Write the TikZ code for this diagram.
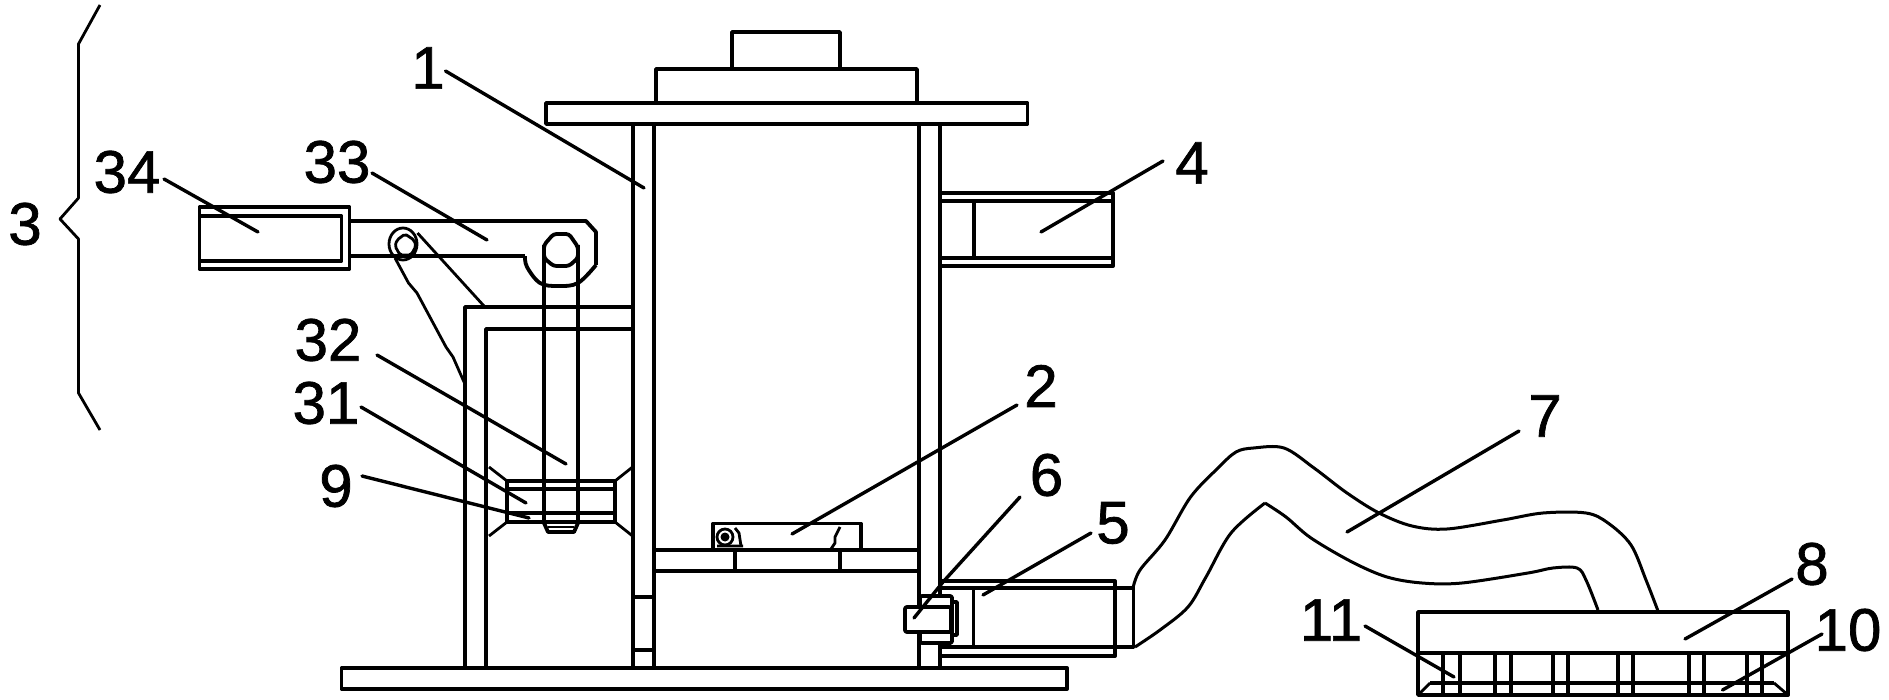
\documentclass[tikz,border=0pt]{standalone}
\usepackage{fontspec}
\setmainfont{Liberation Sans}
\newfontfamily\numfont{Liberation Sans}[FakeBold=1.2]
\tikzset{
  part/.style={line width=3.8pt,line join=round,draw=black},
  fine/.style={line width=2.8pt,line join=round,draw=black},
  leader/.style={line width=3.4pt,line cap=round,draw=black},
  hose/.style={line width=3pt,draw=black,smooth,tension=0.55},
  num/.style={font=\numfont\fontsize{60}{60}\selectfont,inner sep=0pt,text=black}
}
\begin{document}
\begin{tikzpicture}[x=1pt,y=-1pt]
\path[use as bounding box,fill=white] (0,0) rectangle (1889,700);
% brace
\draw[fine] (100,5) -- (78.5,44) -- (78.5,198) -- (60,219) -- (78.5,239) -- (78.5,393) -- (100,430);
% base, top
\draw[part] (341.5,668) rectangle (1067,689);
\draw[part] (546,103) rectangle (1027.5,124);
\draw[part] (656,103) -- (656,69) -- (917,69) -- (917,103);
\draw[part] (732,69) -- (732,32) -- (840,32) -- (840,69);
% columns
\foreach \cx in {632.6,653.6,919,940} \draw[part] (\cx,124) -- (\cx,668);
\draw[part] (632.6,597) -- (653.6,597) (632.6,650) -- (653.6,650);
% side frame
\draw[part] (632.6,307) -- (465,307) -- (465,668);
\draw[part] (632.6,329) -- (486,329) -- (486,668);
% nut 31
\draw[part] (507,481) rectangle (615,522);
\draw[part] (507,489) -- (615,489) (507,513) -- (615,513);
\draw[fine] (489,467) -- (507,481) (507,522) -- (489,536) (615,481) -- (632.6,467) (615,522) -- (632.6,536);
% rod 32
\draw[part] (544,245) -- (544,523) -- (548,532) -- (574,532) -- (578,523) -- (578,245);
\draw[fine] (548,527) -- (574,527);
\draw[part,rounded corners=3pt] (544,245) -- (553.5,234) -- (569,234) -- (578,247) -- (578,258) -- (569,266) -- (553.5,266) -- (544,258) -- cycle;
% arm 33
\draw[part] (349.5,221) -- (586,221) -- (596,232) -- (596,265);
\draw[part,smooth,tension=0.6] plot coordinates {(596,265) (578,283) (558,286) (540,283) (527,267) (525,256)};
\draw[part] (525,256) -- (349.5,256);
% cylinder 34
\draw[part] (199.5,207) rectangle (349.5,269);
\draw[part] (199.5,216) -- (341.5,216) -- (341.5,261) -- (199.5,261);
% pivot
\draw[fine] (403,244) ellipse (14 and 16);
\draw[fine,rounded corners=2pt] (405,234) -- (414,240) -- (416,246) -- (411,255) -- (400,255) -- (395,246) -- (397,240) -- cycle;
\draw[fine] (417.5,233) -- (484,306);
\draw[fine] (395,258) -- (408.5,283) -- (417,293) -- (446,347) -- (453,357) -- (464,382);
% cylinder 4
\draw[part] (940,193) -- (1113,193) -- (1113,266) -- (940,266);
\draw[part] (940,201) -- (1113,201) (940,258) -- (1113,258) (974,201) -- (974,258);
% shelf
\draw[part] (654,550) -- (919,550) (654,570.7) -- (919,570.7);
\draw[part] (735,550) -- (735,570.7) (840,550) -- (840,570.7);
% part 2
\draw[part] (713,550) -- (713,523.5) -- (861,523.5) -- (861,550);
\draw[fine] (840,527) -- (835,537) -- (835,543) -- (831,549);
\draw[fine] (725,537) circle (8);
\fill (725,537) circle (4.5);
\draw[fine] (735,528) -- (739,533) -- (741,546) (717,546) -- (743,546);
% cylinder 5
\draw[part] (940,581) -- (1115,581) -- (1115,656) -- (940,656);
\draw[part] (940,588) -- (1133.5,588) -- (1133.5,647) -- (940,647);
\draw[part] (973.5,588) -- (973.5,647);
% sensor 6
\draw[part,fill=white,rounded corners=2pt] (920,643) -- (920,596) -- (952,596) -- (952,643) -- cycle;
\draw[part] (952,602) -- (957,602) -- (957,635) -- (952,635);
\draw[part,fill=white,rounded corners=2pt] (905,607) rectangle (951,632);
% hose
\draw[hose] plot coordinates {(1133,588) (1140,570) (1165,540) (1190.6,497) (1218,468) (1236,452) (1253.5,448) (1284,448) (1314,468) (1347,493) (1379,513) (1412,526) (1447,529) (1503,520) (1543,513) (1586,513) (1608,523) (1631,545) (1646,580) (1658,611)};
\draw[hose] plot coordinates {(1135,647) (1160,630) (1188,607) (1206,577) (1231,533) (1265,503)};
\draw[hose] plot coordinates {(1265,503) (1286,517) (1311,538) (1352,562) (1387,577) (1422,583) (1462,583) (1528,573) (1553,568) (1577,568) (1586,580) (1598,610)};
% box 8
\draw[part] (1418,612) rectangle (1788,695);
\draw[part] (1418,653) -- (1788,653);
\draw[part] (1430,683) -- (1774,683);
\draw[fine] (1418,695) -- (1430,683) (1788,695) -- (1774,683);
\foreach \vx in {1443,1460,1495,1511,1553,1568,1618,1633,1689,1704,1747,1762}
  \draw[part] (\vx,653) -- (\vx,695);
% labels
\node[num] (n3) at (25,224) {3};
\node[num] (n1) at (428,68) {1};
\node[num] (n34) at (127,172) {34};
\node[num] (n33) at (337,162) {33};
\node[num] (n32) at (328,340) {32};
\node[num] (n31) at (326,403) {31};
\node[num] (n9) at (336,486) {9};
\node[num] (n4) at (1192,163) {4};
\node[num] (n2) at (1041,386) {2};
\node[num] (n6) at (1046.5,475) {6};
\node[num] (n5) at (1113,523) {5};
\node[num] (n7) at (1545,416) {7};
\node[num] (n8) at (1812,564) {8};
\node[num] (n10) at (1848,630) {10};
\node[num] (n11) at (1331,620) {11};
% leaders
\draw[leader] (445.5,71) -- (644,188);
\draw[leader] (164,179) -- (258,232);
\draw[leader] (372,173) -- (487,240);
\draw[leader] (377,355) -- (566,464);
\draw[leader] (361,407) -- (526,503);
\draw[leader] (362,476) -- (529,518);
\draw[leader] (1041,232) -- (1163,161);
\draw[leader] (792,534) -- (1017,405);
\draw[leader] (914,618) -- (943,582) -- (1020,497);
\draw[leader] (983,595) -- (1091,533);
\draw[leader] (1347,532) -- (1519,431);
\draw[leader] (1685,639) -- (1792,579);
\draw[leader] (1722.5,690) -- (1822,634);
\draw[leader] (1365,626) -- (1454,677);
\end{tikzpicture}
\end{document}
